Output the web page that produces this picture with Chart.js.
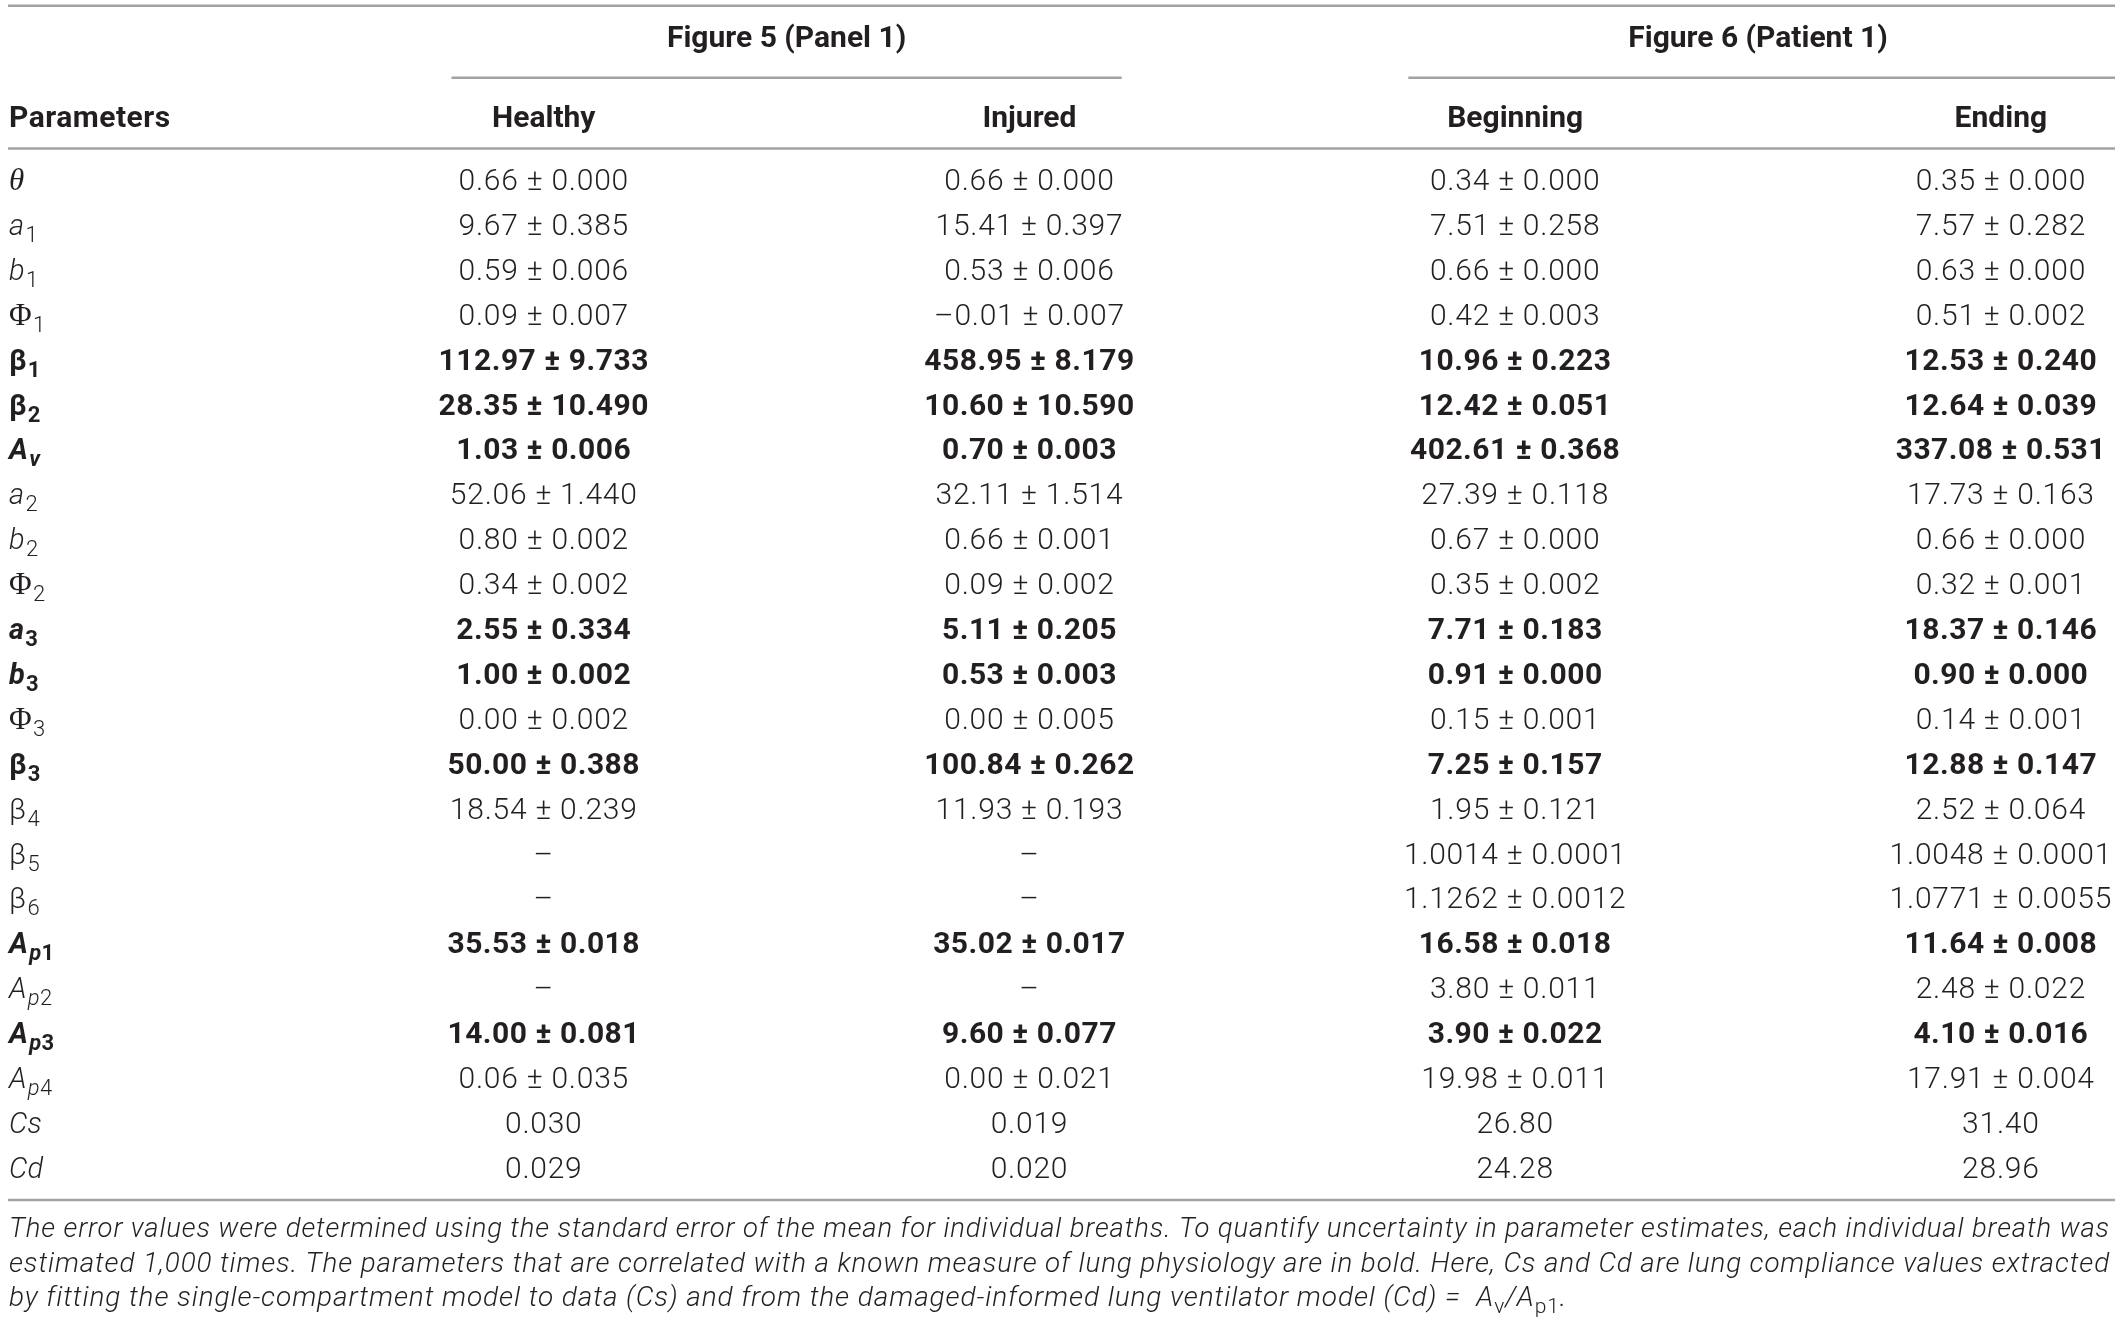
<!DOCTYPE html>
<html>
<head>
<meta charset="UTF-8">
<title>Parameter estimates</title>
<script src="https://cdn.jsdelivr.net/npm/chart.js"></script>
<style>
    html, body { margin: 0; padding: 0; background: #fff; }
    #wrap { width: 2120px; height: 1323px; position: relative; }
</style>
</head>
<body>
<div id="wrap"><canvas id="tbl"></canvas></div>
<script>
    // table content
    const groupHeaders = ['Figure 5 (Panel 1)', 'Figure 6 (Patient 1)'];
    const columnHeaders = ['Healthy', 'Injured', 'Beginning', 'Ending'];
    const params = ['θ', 'a_1', 'b_1', 'Φ_1', 'β_1', 'β_2', 'A_v', 'a_2', 'b_2', 'Φ_2', 'a_3', 'b_3',
        'Φ_3', 'β_3', 'β_4', 'β_5', 'β_6', 'A_p1', 'A_p2', 'A_p3', 'A_p4', 'Cs', 'Cd'];
    const boldParams = ['β_1', 'β_2', 'A_v', 'a_3', 'b_3', 'β_3', 'A_p1', 'A_p3'];

    const healthy = ['0.66 ± 0.000', '9.67 ± 0.385', '0.59 ± 0.006', '0.09 ± 0.007', '112.97 ± 9.733',
        '28.35 ± 10.490', '1.03 ± 0.006', '52.06 ± 1.440', '0.80 ± 0.002', '0.34 ± 0.002', '2.55 ± 0.334',
        '1.00 ± 0.002', '0.00 ± 0.002', '50.00 ± 0.388', '18.54 ± 0.239', '–', '–', '35.53 ± 0.018', '–',
        '14.00 ± 0.081', '0.06 ± 0.035', '0.030', '0.029'];
    const injured = ['0.66 ± 0.000', '15.41 ± 0.397', '0.53 ± 0.006', '–0.01 ± 0.007', '458.95 ± 8.179',
        '10.60 ± 10.590', '0.70 ± 0.003', '32.11 ± 1.514', '0.66 ± 0.001', '0.09 ± 0.002', '5.11 ± 0.205',
        '0.53 ± 0.003', '0.00 ± 0.005', '100.84 ± 0.262', '11.93 ± 0.193', '–', '–', '35.02 ± 0.017', '–',
        '9.60 ± 0.077', '0.00 ± 0.021', '0.019', '0.020'];
    const beginning = ['0.34 ± 0.000', '7.51 ± 0.258', '0.66 ± 0.000', '0.42 ± 0.003', '10.96 ± 0.223',
        '12.42 ± 0.051', '402.61 ± 0.368', '27.39 ± 0.118', '0.67 ± 0.000', '0.35 ± 0.002', '7.71 ± 0.183',
        '0.91 ± 0.000', '0.15 ± 0.001', '7.25 ± 0.157', '1.95 ± 0.121', '1.0014 ± 0.0001', '1.1262 ± 0.0012',
        '16.58 ± 0.018', '3.80 ± 0.011', '3.90 ± 0.022', '19.98 ± 0.011', '26.80', '24.28'];
    const ending = ['0.35 ± 0.000', '7.57 ± 0.282', '0.63 ± 0.000', '0.51 ± 0.002', '12.53 ± 0.240',
        '12.64 ± 0.039', '337.08 ± 0.531', '17.73 ± 0.163', '0.66 ± 0.000', '0.32 ± 0.001', '18.37 ± 0.146',
        '0.90 ± 0.000', '0.14 ± 0.001', '12.88 ± 0.147', '2.52 ± 0.064', '1.0048 ± 0.0001', '1.0771 ± 0.0055',
        '11.64 ± 0.008', '2.48 ± 0.022', '4.10 ± 0.016', '17.91 ± 0.004', '31.40', '28.96'];

    const footnote = [
        'The error values were determined using the standard error of the mean for individual breaths. To quantify uncertainty in parameter estimates, each individual breath was',
        'estimated 1,000 times. The parameters that are correlated with a known measure of lung physiology are in bold. Here, Cs and Cd are lung compliance values extracted',
        'by fitting the single-compartment model to data (Cs) and from the damaged-informed lung ventilator model (Cd) =  A_{v}/A_{p1}.'
    ];

    const columns = [healthy, injured, beginning, ending];

    const INK = '#231f20';
    const RULE = '#a3a3a3';
    const SANS = 'Roboto, "Liberation Sans", sans-serif';
    const SERIF = '"Liberation Serif", "DejaVu Serif", serif';
    const SIZE = 30;
    const NOTE_SIZE = 28;

    function font(style, weight, size, fam) {
        return style + ' ' + weight + ' ' + size + 'px ' + fam;
    }

    // draw a parameter name such as "A_p1": head plus subscript
    function drawParam(ctx, label, x, base, bold) {
        const parts = label.split('_');
        const head = parts[0], sub = parts[1] || '';
        const w = bold ? 'bold' : '300';
        let f;
        if (head === 'θ') f = font('italic', 'normal', SIZE + 1, SERIF);
        else if (head === 'Φ') f = font('normal', 'normal', SIZE + 1, SERIF);
        else if (head === 'β') f = font('normal', w, SIZE - 1, SANS);
        else f = font('italic', w, SIZE - 1, SANS);
        ctx.font = f;
        ctx.fillText(head, x, base);
        x += ctx.measureText(head).width + 1;
        for (const ch of sub) {
            const isDigit = /[0-9]/.test(ch);
            ctx.font = font(isDigit ? 'normal' : 'italic', w, Math.round(SIZE * 0.74), SANS);
            ctx.fillText(ch, x, base + 7);
            x += ctx.measureText(ch).width;
        }
    }

    // one footnote line, with _{..} subscripts, optionally stretched to a width
    function drawNote(ctx, line, x, base, width) {
        const segs = [];
        line.split(/(_\{[^}]*\})/).forEach(s => {
            if (!s) return;
            if (s.startsWith('_{')) segs.push({ t: s.slice(2, -1), sub: true });
            else segs.push({ t: s, sub: false });
        });
        const main = font('italic', '300', NOTE_SIZE, SANS);
        const small = font('normal', '300', Math.round(NOTE_SIZE * 0.76), SANS);
        if (width && segs.length === 1) {
            ctx.font = main;
            const words = line.split(' ');
            const wsum = words.reduce((a, wd) => a + ctx.measureText(wd).width, 0);
            const natural = ctx.measureText(line).width;
            if (natural >= width) {
                ctx.fillText(line, x, base, width);
                return;
            }
            const gap = (width - wsum) / (words.length - 1);
            let cx = x;
            words.forEach(wd => {
                ctx.fillText(wd, cx, base);
                cx += ctx.measureText(wd).width + gap;
            });
            return;
        }
        let cx = x;
        segs.forEach(s => {
            ctx.font = s.sub ? small : main;
            ctx.fillText(s.t, cx, s.sub ? base + 7 : base);
            cx += ctx.measureText(s.t).width;
        });
    }

    const tablePainter = {
        id: 'tablePainter',
        afterDatasetsDraw(chart) {
            const { ctx, chartArea: area, scales: { x, y } } = chart;
            const rowY = v => y.getPixelForValue(v);
            const hline = (py, x0, x1) => {
                ctx.beginPath();
                ctx.moveTo(x0, py);
                ctx.lineTo(x1, py);
                ctx.stroke();
            };
            ctx.save();
            ctx.strokeStyle = RULE;
            ctx.lineWidth = 2.5;
            hline(rowY(-3.87), area.left, area.right);
            hline(rowY(-2.27), x.getPixelForValue(0.81), x.getPixelForValue(2.19));
            hline(rowY(-2.27), x.getPixelForValue(2.78), area.right);
            hline(rowY(-0.69), area.left, area.right);
            const bottomRule = rowY(22.73);
            hline(bottomRule, area.left, area.right);

            ctx.fillStyle = INK;
            ctx.textBaseline = 'alphabetic';
            ctx.letterSpacing = '0px';
            ctx.font = font('normal', 'bold', SIZE, SANS);
            ctx.textAlign = 'center';
            groupHeaders.forEach((g, i) => ctx.fillText(g, x.getPixelForValue(1.5 + 2 * i), rowY(-3.18) + 10.5));
            columnHeaders.forEach((h, i) => ctx.fillText(h, x.getPixelForValue(i + 1), rowY(-1.40) + 10.5));
            ctx.textAlign = 'left';
            ctx.letterSpacing = '0.5px';
            ctx.fillText('Parameters', area.left + 1, rowY(-1.40) + 10.5);

            // value cells sit on the scatter points
            chart.data.datasets.forEach((ds, c) => {
                const meta = chart.getDatasetMeta(c);
                ctx.textAlign = 'center';
                meta.data.forEach((pt, r) => {
                    const bold = boldParams.includes(params[r]);
                    ctx.letterSpacing = bold ? '0.5px' : '0.75px';
                    ctx.font = font('normal', bold ? 'bold' : '300', SIZE, SANS);
                    ctx.fillText(columns[c][r], pt.x, pt.y + 10.5);
                });
            });

            ctx.letterSpacing = '0.3px';
            ctx.textAlign = 'left';
            params.forEach((p, r) => drawParam(ctx, p, area.left + 1, rowY(r) + 10.5, boldParams.includes(p)));

            ctx.letterSpacing = '0.9px';
            footnote.forEach((line, i) => {
                const last = i === footnote.length - 1;
                drawNote(ctx, line, area.left + 1, bottomRule + 37 + i * 34.5, last ? 0 : area.right - area.left - 6);
            });
            ctx.restore();
        }
    };

    new Chart(document.getElementById('tbl'), {
        type: 'scatter',
        data: {
            datasets: columns.map((col, c) => ({
                label: columnHeaders[c],
                data: col.map((v, r) => ({ x: c + 1, y: r })),
                pointRadius: 0,
                pointHoverRadius: 0
            }))
        },
        options: {
            responsive: true,
            maintainAspectRatio: false,
            animation: false,
            layout: { padding: { left: 8, right: 5, top: 0, bottom: 3 } },
            plugins: { legend: { display: false }, tooltip: { enabled: false } },
            scales: {
                x: { type: 'linear', min: -0.103, max: 4.235, display: false },
                y: { type: 'linear', min: -4, max: 25.4, reverse: true, display: false }
            }
        },
        plugins: [tablePainter]
    });
</script>
</body>
</html>
